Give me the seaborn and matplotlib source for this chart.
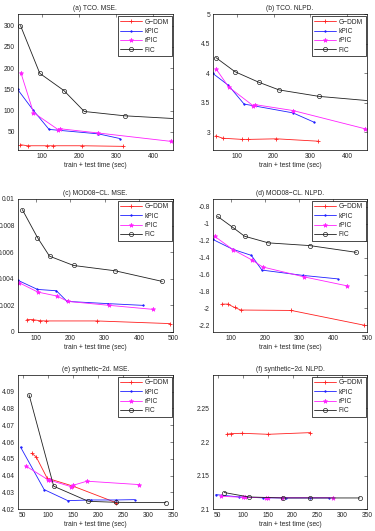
import numpy as np
import matplotlib
matplotlib.use('Agg')
import matplotlib.pyplot as plt
from matplotlib.ticker import FormatStrFormatter
import seaborn as sns

# ---- data ----
# TCO
tco_gddm_x = [43, 62, 115, 132, 208, 320]
tco_kpic_x = [35, 77, 120, 253, 311]
tco_rpic_x = [44, 78, 145, 150, 253, 449]
tco_fic_x = [43, 95, 160, 215, 324, 600]
tco_mse_gddm = [19.5, 17, 17, 17, 17, 15.6]
tco_mse_kpic = [150, 101, 55.5, 45, 34]
tco_mse_rpic = [189, 95, 54.7, 57, 47, 27.3]
tco_mse_fic = [300, 187.5, 147, 97.7, 87.5, 74]
tco_nlpd_gddm = [2.94, 2.90, 2.88, 2.88, 2.89, 2.85]
tco_nlpd_kpic = [4.0, 3.80, 3.48, 3.33, 3.17]
tco_nlpd_rpic = [4.075, 3.77, 3.45, 3.47, 3.37, 3.06]
tco_nlpd_fic = [4.27, 4.03, 3.85, 3.72, 3.61, 3.46]

# MOD08-CL
mod_gddm_x = [74, 91, 111, 129, 277, 491]
mod_kpic_x = [47, 105, 160, 191, 311, 413]
mod_rpic_x = [52, 106, 162, 193, 314, 441]
mod_fic_x = [61, 105, 140, 210, 331, 468]
mod_mse_gddm = [0.00093, 0.00093, 0.00085, 0.00083, 0.00083, 0.00063]
mod_mse_kpic = [0.0039, 0.0032, 0.0031, 0.0023, 0.00213, 0.0020]
mod_mse_rpic = [0.0037, 0.0030, 0.0027, 0.0023, 0.0020, 0.0017]
mod_mse_fic = [0.0092, 0.0071, 0.0057, 0.0050, 0.0046, 0.0038]
mod_nlpd_gddm = [-1.95, -1.95, -1.99, -2.02, -2.025, -2.20]
mod_nlpd_kpic = [-1.184, -1.30, -1.373, -1.547, -1.61, -1.651]
mod_nlpd_rpic = [-1.146, -1.305, -1.428, -1.51, -1.627, -1.734]
mod_nlpd_fic = [-0.911, -1.04, -1.146, -1.225, -1.257, -1.337]

# synthetic-2d
syn_gddm_x = [68, 77, 99, 151, 236]
syn_kpic_x = [46, 93, 140, 186, 235, 273]
syn_rpic_x = [57, 100, 104, 146, 151, 178, 281]
syn_fic_x = [63, 112, 181, 236, 335]
syn_mse_gddm = [4.0532, 4.0512, 4.0384, 4.0336, 4.0238]
syn_mse_kpic = [4.057, 4.0316, 4.025, 4.0254, 4.0254, 4.0256]
syn_mse_rpic = [4.0456, 4.0376, 4.0372, 4.0334, 4.0342, 4.0366, 4.0346]
syn_mse_fic = [4.0882, 4.0336, 4.0246, 4.024, 4.0238]
syn_nlpd_gddm = [2.2115, 2.2125, 2.213, 2.2115, 2.214]
syn_nlpd_kpic = [2.1215, 2.118, 2.1167, 2.1166, 2.1166, 2.1166]
syn_nlpd_rpic = [2.119, 2.1175, 2.1172, 2.117, 2.117, 2.1168, 2.1168]
syn_nlpd_fic = [2.1246, 2.118, 2.1165, 2.1165, 2.1165]

methods = ['G\u2212DDM', 'kPIC', 'rPIC', 'FIC']

panels = [
    ('(a) TCO. MSE.', [tco_gddm_x, tco_kpic_x, tco_rpic_x, tco_fic_x],
     [tco_mse_gddm, tco_mse_kpic, tco_mse_rpic, tco_mse_fic],
     (35, 455), (7, 326), [100, 200, 300, 400], [50, 100, 150, 200, 250, 300]),
    ('(b) TCO. NLPD.', [tco_gddm_x, tco_kpic_x, tco_rpic_x, tco_fic_x],
     [tco_nlpd_gddm, tco_nlpd_kpic, tco_nlpd_rpic, tco_nlpd_fic],
     (35, 455), (2.7, 5.0), [100, 200, 300, 400], [3, 3.5, 4, 4.5, 5]),
    ('(c) MOD08\u2212CL. MSE.', [mod_gddm_x, mod_kpic_x, mod_rpic_x, mod_fic_x],
     [mod_mse_gddm, mod_mse_kpic, mod_mse_rpic, mod_mse_fic],
     (47, 500), (0, 0.01), [100, 200, 300, 400, 500], [0, 0.002, 0.004, 0.006, 0.008, 0.01]),
    ('(d) MOD08\u2212CL. NLPD.', [mod_gddm_x, mod_kpic_x, mod_rpic_x, mod_fic_x],
     [mod_nlpd_gddm, mod_nlpd_kpic, mod_nlpd_rpic, mod_nlpd_fic],
     (47, 500), (-2.28, -0.705), [100, 200, 300, 400, 500],
     [-2.2, -2, -1.8, -1.6, -1.4, -1.2, -1, -0.8]),
    ('(e) synthetic\u22122d. MSE.', [syn_gddm_x, syn_kpic_x, syn_rpic_x, syn_fic_x],
     [syn_mse_gddm, syn_mse_kpic, syn_mse_rpic, syn_mse_fic],
     (40, 350), (4.02, 4.10), [50, 100, 150, 200, 250, 300, 350],
     [4.02, 4.03, 4.04, 4.05, 4.06, 4.07, 4.08, 4.09]),
    ('(f) synthetic\u22122d. NLPD.', [syn_gddm_x, syn_kpic_x, syn_rpic_x, syn_fic_x],
     [syn_nlpd_gddm, syn_nlpd_kpic, syn_nlpd_rpic, syn_nlpd_fic],
     (40, 350), (2.1, 2.3), [50, 100, 150, 200, 250, 300, 350], [2.1, 2.15, 2.2, 2.25]),
]

styles = [
    dict(color='#ff2020', marker='+', markersize=3.2, markeredgecolor='#ff2020', markerfacecolor='#ff2020', markeredgewidth=0.6),
    dict(color='#2020ff', marker='.', markersize=2.2, markeredgecolor='#2020ff', markerfacecolor='#2020ff', markeredgewidth=0.5),
    dict(color='#ff20ff', marker='*', markersize=3.2, markeredgecolor='#ff20ff', markerfacecolor='#ff20ff', markeredgewidth=0.5),
    dict(color='#202020', marker='o', markersize=3.0, markeredgecolor='#202020', markerfacecolor='none', markeredgewidth=0.5),
]

sns.set_style('white')
plt.rcParams['font.family'] = ['Liberation Sans', 'DejaVu Sans']
plt.rcParams['font.size'] = 4.8
plt.rcParams['axes.linewidth'] = 0.5

fig = plt.figure(figsize=(3.75, 5.31), dpi=100)

col_pos = [(0.0467, 0.4155), (0.5675, 0.412)]
row_pos = [(0.7175, 0.2552), (0.3748, 0.2505), (0.0414, 0.2524)]

for i, (title, xs, ys, xlim, ylim, xt, yt) in enumerate(panels):
    x0, w = col_pos[i % 2]
    y0, h = row_pos[i // 2]
    ax = fig.add_axes([x0, y0, w, h])
    for name, x, y, st in zip(methods, xs, ys, styles):
        sns.lineplot(x=x, y=y, ax=ax, label=name, estimator=None, sort=False,
                     linewidth=0.6, **st)
    ax.set_xlim(xlim)
    ax.set_ylim(ylim)
    ax.set_xticks(xt)
    ax.set_yticks(yt)
    ax.xaxis.set_major_formatter(FormatStrFormatter('%g'))
    ax.yaxis.set_major_formatter(FormatStrFormatter('%g'))
    ax.tick_params(direction='in', length=2, width=0.4, top=True, right=True,
                   labelsize=4.8, pad=2)
    for s in ax.spines.values():
        s.set_color('black')
        s.set_linewidth(0.5)
    ax.set_title(title, fontsize=4.8, pad=3)
    ax.set_xlabel('train + test time (sec)', fontsize=4.8, labelpad=1.5)
    ax.set_ylabel('')
    leg = ax.legend(loc='upper right', fontsize=4.8, frameon=True, fancybox=False,
                    framealpha=1, edgecolor='black', handlelength=3.2,
                    handletextpad=0.5, labelspacing=0.35, borderpad=0.4,
                    borderaxespad=0.25)
    leg.get_frame().set_linewidth(0.5)

fig.savefig('out.png', dpi=100)
